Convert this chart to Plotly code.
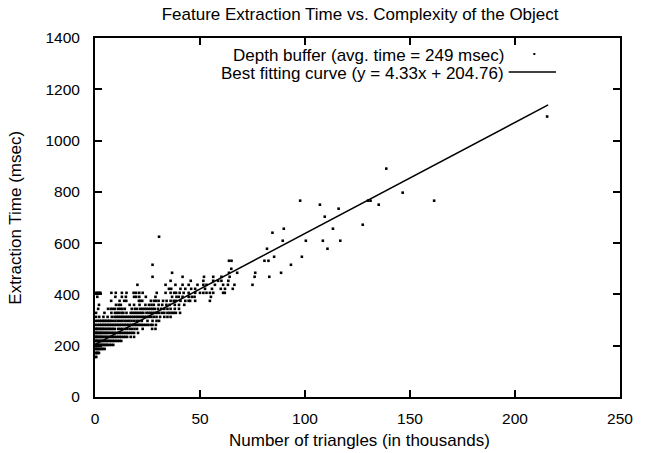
import plotly.graph_objects as go

# ---------------- data ----------------
# extraction times are quantised (15.625 ms timer); one list of triangle counts (thousands) per time level
levels_msec = [156.25, 171.875, 187.5, 203.125, 218.75, 234.375, 250.0, 265.625, 281.25,
               296.875, 312.5, 328.125, 343.75, 359.375, 375.0, 390.625, 406.25, 421.875,
               437.5, 453.125, 468.75, 484.375, 500.0, 515.625, 531.25, 546.875, 578.125,
               609.375, 625.0, 640.625, 656.25, 671.875, 703.125, 734.375, 750.0, 765.625,
               796.875, 890.625, 1093.75]

triangles_by_level = [
    [0.2, 0.6],
    [0.2, 0.6, 1.0, 1.4, 1.9],
    [0.2, 0.6, 1.0, 1.4, 1.8, 2.3, 2.8, 3.3, 3.9, 4.6],
    [0.2, 0.6, 1.0, 1.4, 1.8, 2.3, 2.8, 3.3, 3.8, 4.4, 5.0, 5.6, 6.2, 7.0, 7.8, 8.7],
    [0.2, 0.6, 1.0, 1.4, 1.9, 2.4, 2.9, 3.4, 3.9, 4.5, 5.1, 5.7, 6.3, 7.0, 7.7, 8.4, 9.1, 9.9,
     10.8, 11.6, 12.5],
    [0.2, 0.6, 1.0, 1.5, 2.0, 2.5, 3.0, 3.5, 4.1, 4.7, 5.3, 5.9, 6.6, 7.3, 8.0, 8.7, 9.4, 10.2,
     11.0, 11.8, 12.6, 13.5, 14.4, 15.3, 17.0, 18.6],
    [0.2, 0.6, 1.0, 1.5, 2.0, 2.5, 3.0, 3.6, 4.2, 4.8, 5.4, 6.0, 6.7, 7.4, 8.1, 8.8, 9.5, 10.3,
     11.1, 11.9, 12.7, 13.5, 14.3, 15.1, 15.9, 16.8, 17.7, 18.6, 20.5],
    [0.3, 0.8, 1.3, 1.9, 2.5, 3.1, 3.7, 4.3, 5.0, 5.7, 6.4, 7.1, 7.8, 8.6, 9.4, 11.0, 12.0, 13.0,
     14.2, 15.3, 16.5, 17.6, 18.8, 20.0, 22.7, 27.2, 28.8],
    [0.3, 1.4, 2.2, 3.0, 3.8, 4.6, 5.4, 6.2, 7.0, 7.8, 8.6, 9.4, 10.2, 11.0, 11.8, 12.6, 13.4,
     14.2, 15.0, 15.8, 16.6, 17.4, 18.2, 19.0, 19.8, 20.6, 21.4, 22.3, 23.2, 24.2, 25.3, 26.5,
     27.4, 29.0],
    [0.5, 1.4, 2.2, 3.0, 3.8, 4.5, 5.2, 6.0, 6.8, 7.5, 8.6, 9.7, 10.8, 11.9, 13.0, 14.1, 15.2,
     16.3, 17.4, 18.6, 19.8, 20.9, 22.3, 25.0, 27.4, 29.3, 30.5],
    [0.5, 2.0, 4.0, 6.0, 8.0, 9.3, 10.2, 11.1, 12.0, 12.9, 13.8, 14.7, 15.6, 16.5, 17.4, 18.3,
     19.2, 20.1, 21.0, 21.9, 22.8, 23.7, 24.6, 25.6, 26.8, 28.0, 29.3, 31.0, 33.0, 34.5, 36.0],
    [0.5, 4.5, 7.8, 9.5, 10.5, 11.4, 12.6, 13.5, 15.0, 17.0, 18.0, 19.0, 20.0, 21.0, 22.0, 23.0,
     24.5, 25.5, 26.5, 27.5, 28.5, 29.5, 30.5, 31.8, 33.0, 34.5, 35.5, 36.6, 37.5, 38.5, 40.5],
    [1.5, 6.2, 7.5, 8.5, 9.5, 11.0, 12.0, 13.0, 14.2, 17.5, 19.0, 20.0, 21.5, 22.5, 23.5, 24.5,
     25.5, 26.5, 27.5, 28.5, 30.0, 31.5, 33.0, 34.5, 36.0, 38.0, 40.0],
    [1.9, 10.0, 11.3, 12.3, 16.5, 18.6, 21.2, 24.0, 25.7, 26.9, 28.0, 30.3, 32.0, 34.0, 35.5,
     38.0, 40.0, 42.5],
    [7.7, 11.7, 13.9, 14.9, 20.9, 21.6, 22.5, 26.6, 28.1, 29.1, 30.3, 32.4, 34.1, 36.0, 37.5,
     38.6, 40.7, 43.0, 44.6, 45.3, 47.7, 54.7],
    [1.1, 9.7, 12.8, 14.7, 18.6, 19.6, 21.1, 24.2, 28.8, 36.7, 38.8, 39.9, 41.7, 44.6, 46.1,
     47.4, 55.2],
    [0.5, 1.2, 1.9, 2.6, 7.8, 9.9, 12.8, 15.0, 18.4, 19.6, 21.1, 22.7, 29.4, 33.6, 36.0, 37.7,
     38.6, 40.3, 42.2, 44.6, 47.7, 50.0, 51.6, 53.1, 54.7, 56.3, 61.0, 61.8],
    [35.2, 36.3, 40.7, 43.0, 45.8, 47.7, 52.4, 55.7, 59.9, 61.9, 65.6],
    [20.2, 33.6, 38.3, 41.7, 44.6, 48.8, 51.6, 53.1, 57.1, 61.0, 63.3, 66.4, 75.0],
    [36.0, 45.6, 51.6, 56.3, 58.6, 60.2, 63.5],
    [27.4, 41.7, 51.9, 56.3, 60.2, 64.1, 76.0, 83.0],
    [36.7, 63.8, 67.7, 76.3, 88.6],
    [64.9],
    [27.4, 93.3],
    [63.8, 65.0, 80.7, 82.6],
    [85.3, 98.5],
    [81.9, 110.7],
    [89.4, 100.4, 108.5, 116.8],
    [30.5],
    [84.5],
    [89.9, 113.3],
    [127.5],
    [109.4],
    [116.0],
    [107.1, 135.1],
    [97.7, 130.0, 131.2, 161.5],
    [146.5],
    [138.7],
    [215.3],
]

fit_slope = 4.33
fit_intercept = 204.76
fit_x_range = [0.0, 215.8]

x_ticks = [0, 50, 100, 150, 200, 250]
y_ticks = [0, 200, 400, 600, 800, 1000, 1200, 1400]

title_text = "Feature Extraction Time vs. Complexity of the Object"
x_title = "Number of triangles (in thousands)"
y_title = "Extraction Time (msec)"
legend_scatter = "Depth buffer (avg. time = 249 msec)"
legend_fit = "Best fitting curve (y = 4.33x + 204.76)"

# ---------------- build ----------------
pts_x, pts_y = [], []
for lvl, xs in zip(levels_msec, triangles_by_level):
    pts_x.extend(xs)
    pts_y.extend([lvl] * len(xs))

fit_y = [fit_slope * v + fit_intercept for v in fit_x_range]

FONT = "Liberation Sans, Arial, Helvetica, sans-serif"
FS = 17      # titles / key text
FS_TICK = 15.5

fig = go.Figure()
fig.add_trace(go.Scatter(x=pts_x, y=pts_y, mode="markers",
                         marker=dict(symbol="square", size=2.6, color="black",
                                     line=dict(width=0)),
                         showlegend=False, hoverinfo="skip"))
fig.add_trace(go.Scatter(x=fit_x_range, y=fit_y, mode="lines",
                         line=dict(color="black", width=1.5),
                         showlegend=False, hoverinfo="skip"))

axis_common = dict(showgrid=False, zeroline=False, showline=True, linecolor="black",
                   linewidth=2, ticks="inside", ticklen=7, tickwidth=1.5,
                   tickcolor="black", mirror="ticks",
                   tickfont=dict(family=FONT, size=FS_TICK, color="black"))

fig.update_layout(
    width=645, height=453,
    margin=dict(l=95, r=17, t=38, b=56),
    paper_bgcolor="white", plot_bgcolor="white",
    font=dict(family=FONT, size=FS, color="black"),
    title=dict(text=title_text, x=0.505, xref="paper", xanchor="center",
               y=1 - 14 / 453, yref="container", yanchor="middle",
               font=dict(family=FONT, size=FS, color="black")),
    xaxis=dict(range=[0, 250], tickvals=x_ticks, ticklabelstandoff=6, **axis_common),
    yaxis=dict(range=[0, 1400], tickvals=y_ticks, ticklabelstandoff=10, **axis_common),
    showlegend=False,
)

# axis titles
fig.add_annotation(text=x_title, xref="paper", yref="paper", x=0.503, y=-0.12,
                   xanchor="center", yanchor="middle", showarrow=False,
                   font=dict(family=FONT, size=FS, color="black"))
fig.add_annotation(text=y_title, xref="paper", yref="paper", x=-0.152, y=0.5,
                   xanchor="center", yanchor="middle", textangle=-90, showarrow=False,
                   font=dict(family=FONT, size=FS, color="black"))

# gnuplot-style key: text right-aligned, sample to its right
fig.add_annotation(text=legend_scatter, xref="paper", yref="paper", x=0.783, y=0.9526,
                   xanchor="right", yanchor="middle", showarrow=False,
                   font=dict(family=FONT, size=FS, color="black"))
fig.add_annotation(text=legend_fit, xref="paper", yref="paper", x=0.783, y=0.9025,
                   xanchor="right", yanchor="middle", showarrow=False,
                   font=dict(family=FONT, size=FS, color="black"))
fig.add_shape(type="rect", xref="paper", yref="paper", xsizemode="pixel", ysizemode="pixel",
              xanchor=0.8368, yanchor=0.9554, x0=-1, x1=1, y0=-1, y1=1,
              fillcolor="black", line=dict(width=0))
fig.add_shape(type="line", xref="paper", yref="paper", x0=0.788, x1=0.878,
              y0=0.9053, y1=0.9053, line=dict(color="black", width=1.5))

fig.write_html("out.html")
